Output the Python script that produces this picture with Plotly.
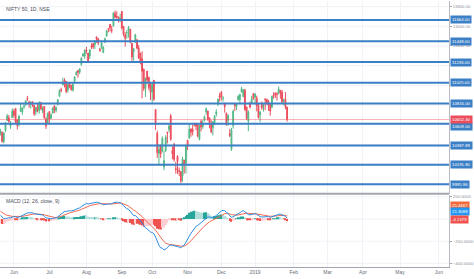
import pandas as pd
import plotly.graph_objects as go

chart_title = "NIFTY 50, 1D, NSE"
macd_title = "MACD (12, 26, close, 9)"

holidays = ["2018-08-15", "2018-08-22", "2018-09-13", "2018-09-20", "2018-10-02",
            "2018-10-18", "2018-11-08", "2018-11-23", "2018-12-25"]

opens = [
    10517, 10521, 10428, 10541, 10642, 10670, 10583, 10670,
    10738, 10765, 10649, 10603, 10735, 10728, 10781, 10804, 10869, 10830, 10810, 10834, 10797, 10734, 10783, 10743, 10822, 10742, 10786, 10661, 10612,
    10733, 10665, 10716, 10792, 10745, 10808, 10889, 10957, 11003, 11055, 11040, 10952, 11025, 10999, 10951, 11044, 11104, 11148, 11133, 11210, 11297, 11300,
    11360, 11328, 11298, 11401, 11424, 11413, 11493, 11474, 11369, 11381, 11334, 11438, 11500, 11577, 11620, 11566, 11605, 11731, 11702, 11694, 11675,
    11751, 11598, 11514, 11537, 11558, 11570, 11427, 11340, 11443, 11464, 11381, 11326, 11271, 11164, 10969, 11145, 11080, 11009,
    10931, 11051, 10754, 10515, 10310, 10390, 10331, 10169, 10331, 10525, 10550, 10688, 10339, 10406, 10152, 10278, 10135, 10122, 10079, 10240, 10209,
    10442, 10463, 10558, 10553, 10614, 10614, 10608, 10451, 10634, 10581, 10644, 10731, 10740, 10670, 10612, 10568, 10622, 10709, 10809, 10892,
    10930, 10868, 10820, 10718, 10644, 10508, 10350, 10591, 10810, 10784, 10853, 10855, 10931, 10885, 10951, 10780, 10635, 10817, 10820, 10913,
    10881, 10869, 10796, 10700, 10804, 10786, 10862, 10859, 10834, 10807, 10778, 10900, 10919, 10914, 10919, 10949, 10931, 10844, 10859, 10780,
]
highs = [
    10558, 10533, 10525, 10628, 10710, 10699, 10638, 10764,
    10760, 10766, 10654, 10700, 10818, 10779, 10807, 10850, 10893, 10844, 10840, 10838, 10800, 10781, 10809, 10837, 10832, 10785, 10786, 10675, 10724,
    10736, 10714, 10778, 10794, 10786, 10860, 10957, 10976, 11078, 11072, 11043, 11019, 11035, 11006, 11025, 11092, 11144, 11158, 11174, 11284, 11323, 11366,
    11391, 11328, 11367, 11428, 11428, 11460, 11495, 11479, 11381, 11452, 11397, 11486, 11565, 11581, 11620, 11604, 11740, 11760, 11753, 11698, 11727,
    11752, 11603, 11540, 11562, 11603, 11574, 11430, 11380, 11523, 11464, 11411, 11332, 11346, 11170, 11080, 11145, 11089, 11034,
    11035, 11053, 10755, 10540, 10399, 10398, 10482, 10335, 10492, 10526, 10604, 10710, 10380, 10408, 10223, 10290, 10166, 10128, 10275, 10240, 10396,
    10442, 10606, 10558, 10600, 10616, 10619, 10611, 10597, 10651, 10646, 10695, 10775, 10740, 10671, 10646, 10637, 10699, 10757, 10865, 10922,
    10941, 10891, 10822, 10722, 10705, 10557, 10568, 10752, 10822, 10816, 10900, 10915, 10985, 10962, 10964, 10782, 10747, 10834, 10894, 10923,
    10923, 10895, 10815, 10741, 10835, 10819, 10870, 10859, 10850, 10808, 10896, 10929, 10931, 10930, 10988, 10949, 10955, 10866, 10931, 10780,
]
lows = [
    10490, 10418, 10410, 10524, 10638, 10620, 10558, 10668,
    10673, 10612, 10551, 10580, 10734, 10700, 10762, 10790, 10842, 10773, 10763, 10780, 10689, 10698, 10725, 10711, 10747, 10717, 10660, 10557, 10612,
    10604, 10658, 10716, 10717, 10724, 10796, 10880, 10928, 11003, 10979, 10920, 10926, 10970, 10945, 10937, 11016, 11102, 11077, 11114, 11200, 11291, 11267,
    11322, 11234, 11268, 11370, 11370, 11370, 11433, 11408, 11340, 11370, 11326, 11431, 11499, 11539, 11546, 11532, 11595, 11681, 11678, 11639, 11640,
    11567, 11497, 11394, 11475, 11484, 11427, 11250, 11250, 11430, 11366, 11268, 11213, 10867, 10943, 10882, 11034, 10953, 10850,
    10821, 10843, 10547, 10262, 10198, 10262, 10318, 10138, 10330, 10410, 10525, 10436, 10249, 10224, 10102, 10100, 10079, 10005, 10020, 10103, 10105,
    10342, 10457, 10477, 10491, 10582, 10544, 10472, 10440, 10532, 10557, 10632, 10701, 10640, 10563, 10513, 10490, 10596, 10683, 10790, 10835,
    10845, 10834, 10722, 10589, 10589, 10474, 10333, 10560, 10739, 10749, 10844, 10818, 10928, 10880, 10738, 10649, 10534, 10764, 10818, 10854,
    10808, 10735, 10662, 10628, 10750, 10733, 10749, 10801, 10739, 10692, 10768, 10864, 10871, 10844, 10908, 10864, 10814, 10798, 10757, 10631,
]
closes = [
    10537, 10430, 10514, 10605, 10689, 10633, 10614, 10736,
    10696, 10629, 10593, 10685, 10768, 10768, 10787, 10843, 10857, 10808, 10818, 10800, 10710, 10772, 10741, 10822, 10762, 10769, 10671, 10589, 10714,
    10657, 10700, 10770, 10750, 10773, 10853, 10947, 10948, 11023, 11019, 10937, 11008, 10980, 10957, 11010, 11085, 11134, 11132, 11167, 11278, 11320, 11357,
    11346, 11245, 11361, 11387, 11389, 11450, 11471, 11430, 11356, 11435, 11385, 11471, 11552, 11571, 11583, 11557, 11738, 11692, 11692, 11677, 11680,
    11582, 11520, 11477, 11537, 11589, 11438, 11288, 11370, 11515, 11378, 11279, 11234, 11143, 10967, 11067, 11054, 10978, 10930,
    11008, 10858, 10599, 10316, 10348, 10301, 10460, 10235, 10473, 10513, 10585, 10453, 10304, 10245, 10147, 10225, 10125, 10030, 10251, 10199, 10387,
    10380, 10553, 10524, 10530, 10598, 10585, 10482, 10583, 10576, 10617, 10682, 10763, 10656, 10600, 10527, 10629, 10686, 10729, 10859, 10877,
    10884, 10870, 10783, 10601, 10694, 10488, 10549, 10738, 10792, 10805, 10888, 10909, 10967, 10952, 10754, 10664, 10730, 10780, 10860, 10863,
    10910, 10793, 10672, 10727, 10772, 10802, 10855, 10822, 10795, 10738, 10887, 10890, 10905, 10907, 10962, 10923, 10832, 10850, 10781, 10652.3,
]
# closes before the visible window (Mar-May 2018), used only to warm up the MACD EMAs
warmup_closes = [
    10458, 10358, 10249, 10154, 10243, 10227, 10422, 10427, 10411, 10360, 10195, 10094, 10124, 10155, 10115, 9998, 10131, 10184, 10114,
    10212, 10245, 10128, 10326, 10332, 10379, 10402, 10418, 10458, 10481, 10528, 10548, 10526, 10565, 10564, 10584, 10614, 10570, 10617, 10692, 10739,
    10718, 10679, 10618, 10715, 10717, 10741, 10716, 10806, 10807, 10802, 10741, 10682, 10596, 10517,
]

level_values = [11664.00, 11448.00, 11236.00, 11025.00, 10816.00, 10609.00, 10387.89, 10191.80, 9995.96]
last_price = 10652.30
macd_last_values = [25.4467, 21.3088, -4.1379]

month_ticks = ["2018-06-01", "2018-07-02", "2018-08-01", "2018-09-03", "2018-10-01", "2018-11-01",
               "2018-12-03", "2019-01-01", "2019-02-01", "2019-03-01", "2019-04-01", "2019-05-01", "2019-06-03"]
month_labels = ["Jun", "Jul", "Aug", "Sep", "Oct", "Nov", "Dec", "2019", "Feb", "Mar", "Apr", "May", "Jun"]
price_grid = [10000, 10200, 10400, 10600, 10800, 11000, 11200, 11400, 11600, 11800]
price_ticks = [11400, 11600, 11800]
macd_grid = [200, 0, -200, -400]
macd_ticks = [200, -200, -400]

# ---------------------------------------------------------------------------
dates = pd.bdate_range("2018-05-22", "2019-01-28")
dates = dates[~dates.isin(pd.to_datetime(holidays))]
assert len(dates) == len(opens) == len(highs) == len(lows) == len(closes)

allc = pd.Series(warmup_closes + closes, dtype=float)
ema12 = allc.ewm(span=12, adjust=False).mean()
ema26 = allc.ewm(span=26, adjust=False).mean()
macd_s = ema12 - ema26
signal_s = macd_s.ewm(span=9, adjust=False).mean()
hist_s = macd_s - signal_s
n = len(closes)
macd = macd_s.iloc[-n:].tolist()
signal = signal_s.iloc[-n:].tolist()
hist = hist_s.iloc[-n:].tolist()
prev_hist = [hist[0]] + hist[:-1]
hist_colors = []
for h, p in zip(hist, prev_hist):
    if h >= 0:
        hist_colors.append("#26A69A" if h >= p else "#B2DFDB")
    else:
        hist_colors.append("#FFCDD2" if h >= p else "#EF5350")

UP, DOWN = "#53B987", "#EB4D5C"
LEVEL_BLUE = "#3B7FC6"
FONT = "Arial"
GRID = "#F0F2F7"

fig = go.Figure()
fig.add_trace(go.Bar(x=dates, y=hist, marker=dict(color=hist_colors, line=dict(width=0)),
                     yaxis="y2", showlegend=False, hoverinfo="skip"))
fig.add_trace(go.Scatter(x=dates, y=signal, mode="lines", line=dict(color="#F2694F", width=1),
                         yaxis="y2", showlegend=False))
fig.add_trace(go.Scatter(x=dates, y=macd, mode="lines", line=dict(color="#2C8BE0", width=1),
                         yaxis="y2", showlegend=False))
fig.add_trace(go.Candlestick(
    x=dates, open=opens, high=highs, low=lows, close=closes, yaxis="y",
    increasing=dict(line=dict(color=UP, width=1), fillcolor=UP),
    decreasing=dict(line=dict(color=DOWN, width=1), fillcolor=DOWN),
    whiskerwidth=0, showlegend=False))

sep_y = (267 - 193.5) / 267
shapes = []
annotations = []
for v in price_grid:
    shapes.append(dict(type="line", xref="paper", x0=0, x1=1, yref="y", y0=v, y1=v,
                       line=dict(color=GRID, width=1), layer="below"))
for v in macd_grid:
    shapes.append(dict(type="line", xref="paper", x0=0, x1=1, yref="y2", y0=v, y1=v,
                       line=dict(color=GRID, width=1), layer="below"))
for v in level_values:
    shapes.append(dict(type="line", xref="paper", x0=0, x1=1, yref="y", y0=v, y1=v,
                       line=dict(color=LEVEL_BLUE, width=2), layer="above"))
shapes.append(dict(type="line", xref="paper", x0=0, x1=1, yref="y", y0=last_price, y1=last_price,
                   line=dict(color="rgba(235,77,92,0.45)", width=1), layer="above"))
shapes.append(dict(type="line", xref="paper", x0=0, x1=1, yref="paper", y0=sep_y, y1=sep_y,
                   line=dict(color="#A3A6AE", width=2), layer="above"))

label_shift = {10609.00: -3}
for v in level_values:
    annotations.append(dict(x=1, xref="paper", xanchor="left", xshift=1, y=v, yref="y",
                            yshift=label_shift.get(v, 0), text=f"{v:.2f}", showarrow=False,
                            font=dict(size=4.3, color="white", family=FONT),
                            bgcolor=LEVEL_BLUE, borderpad=1))
annotations.append(dict(x=1, xref="paper", xanchor="left", xshift=1, y=last_price, yref="y",
                        text=f"{last_price:.2f}", showarrow=False,
                        font=dict(size=4.3, color="white", family=FONT), bgcolor="#EB4D5C", borderpad=1))
macd_box_colors = ["#F26A3C", "#2196F3", "#EF5350"]
macd_shifts = [11, 5, 0]
for v, c, s in zip(macd_last_values, macd_box_colors, macd_shifts):
    annotations.append(dict(x=1, xref="paper", xanchor="left", xshift=1, y=v, yref="y2",
                            yshift=s, text=f"{v:.4f}", showarrow=False,
                            font=dict(size=4.3, color="white", family=FONT), bgcolor=c, borderpad=1))
annotations.append(dict(x=0.008, xref="paper", xanchor="left", y=1, yref="paper", yanchor="top",
                        yshift=-3, text=chart_title, showarrow=False,
                        font=dict(size=5, color="#4A4E59", family=FONT)))
annotations.append(dict(x=0.008, xref="paper", xanchor="left", y=(267 - 196) / 267, yref="paper",
                        yanchor="top", text=macd_title, showarrow=False,
                        font=dict(size=5, color="#4A4E59", family=FONT)))

fig.update_layout(
    width=474, height=279,
    margin=dict(l=0, r=22, t=0, b=12),
    paper_bgcolor="white", plot_bgcolor="white",
    bargap=0.25,
    shapes=shapes, annotations=annotations,
    xaxis=dict(
        range=["2018-05-21 18:00", "2019-06-11"],
        rangebreaks=[dict(bounds=["sat", "mon"]), dict(values=holidays)],
        rangeslider=dict(visible=False),
        tickmode="array", tickvals=month_ticks, ticktext=month_labels,
        tickfont=dict(size=5, color="#6A6D78", family=FONT),
        showgrid=True, gridcolor=GRID, gridwidth=1,
        showline=True, linecolor="#A3A6AE", linewidth=1,
        anchor="y2", ticks="", zeroline=False,
    ),
    yaxis=dict(
        domain=[sep_y, 1], range=[9898, 11857], side="right",
        tickmode="array", tickvals=price_ticks, tickformat=".2f",
        tickfont=dict(size=4.3, color="#8A8D96", family=FONT),
        ticks="outside", ticklen=2, tickcolor="#A3A6AE",
        showgrid=False,
        showline=True, linecolor="#B8BBC3", linewidth=1, zeroline=False,
    ),
    yaxis2=dict(
        domain=[0, (267 - 195) / 267], range=[-433, 215], side="right",
        tickmode="array", tickvals=macd_ticks, tickformat=".4f",
        tickfont=dict(size=4.3, color="#8A8D96", family=FONT),
        ticks="outside", ticklen=2, tickcolor="#A3A6AE",
        showgrid=False,
        showline=True, linecolor="#B8BBC3", linewidth=1, zeroline=False,
    ),
    hovermode=False,
)

fig.write_html("out.html")
